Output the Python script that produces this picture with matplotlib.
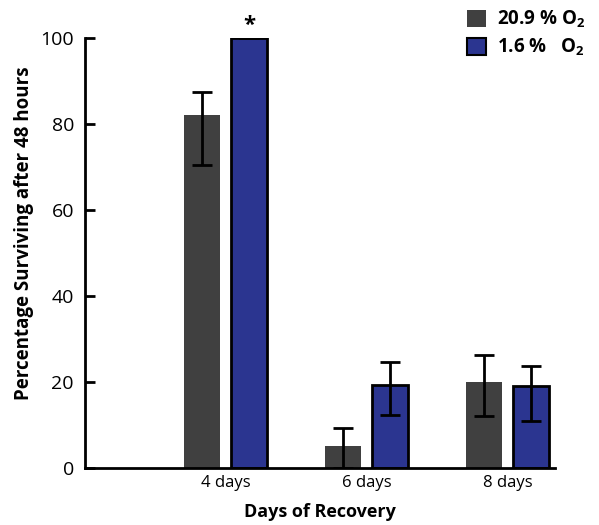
import numpy as np
import matplotlib
matplotlib.use('Agg')
import matplotlib.pyplot as plt
from matplotlib.patches import Patch

plt.rcParams['font.family'] = ['Open Sans', 'DejaVu Sans']
plt.rcParams['mathtext.fontset'] = 'custom'
plt.rcParams['mathtext.bf'] = 'Open Sans:bold'
plt.rcParams['mathtext.rm'] = 'Open Sans'

days = ['4 days', '6 days', '8 days']
normoxia = [82, 5, 20]          # 20.9 % O2
normoxia_err_hi = [5.5, 4.2, 6.3]
normoxia_err_lo = [11.5, 5, 7.8]
hypoxia = [100, 19.2, 19]       # 1.6 % O2
hypoxia_err_hi = [0, 5.5, 4.8]
hypoxia_err_lo = [0, 6.9, 8]

x = np.arange(1, len(days) + 1)
w = 0.255
off = 0.167

fig = plt.figure(figsize=(5.99, 5.25), dpi=100)
ax = fig.add_axes([0.142, 0.1086, 0.785, 0.819])

ax.bar(x - off, normoxia, w, color='#404040', edgecolor='none')
ax.bar(x + off, hypoxia, w, color='#2B3590', edgecolor='black', linewidth=2)
ax.errorbar(x - off, normoxia, yerr=[normoxia_err_lo, normoxia_err_hi], fmt='none',
            ecolor='black', elinewidth=2, capsize=7, capthick=2)
ax.errorbar(x + off, hypoxia, yerr=[hypoxia_err_lo, hypoxia_err_hi], fmt='none',
            ecolor='black', elinewidth=2, capsize=7, capthick=2)

ax.text(x[0] + off, 100.5, '*', ha='center', va='bottom', fontsize=16, fontweight='bold')

ax.set_xlim(0, 3.34)
ax.set_ylim(0, 100)
ax.set_xticks(x)
ax.set_xticklabels(days, fontsize=12)
ax.set_yticks([0, 20, 40, 60, 80, 100])
ax.tick_params(axis='x', length=0, pad=5)
ax.tick_params(axis='y', direction='in', length=7.5, width=2, labelsize=14, pad=8)
ax.spines['top'].set_visible(False)
ax.spines['right'].set_visible(False)
ax.spines['left'].set_linewidth(2)
ax.spines['bottom'].set_linewidth(2)

ax.set_ylabel('Percentage Surviving after 48 hours', fontsize=13.5, fontweight='bold')
ax.yaxis.set_label_coords(-0.108, 0.545)
ax.set_xlabel('Days of Recovery', fontsize=13, fontweight='bold', labelpad=9)

handles = [Patch(facecolor='#404040', edgecolor='none'),
           Patch(facecolor='#2B3590', edgecolor='black', linewidth=1.5)]
fig.legend(handles, [r'20.9 % $\mathbf{O_2}$', r'1.6 %   $\mathbf{O_2}$'],
           loc='upper right', bbox_to_anchor=(1.005, 1.015), frameon=False,
           prop={'weight': 'bold', 'size': 13.5}, handlelength=1.0, handleheight=1.0,
           handletextpad=0.6, labelspacing=0.35)

fig.savefig('out.png', dpi=100)
